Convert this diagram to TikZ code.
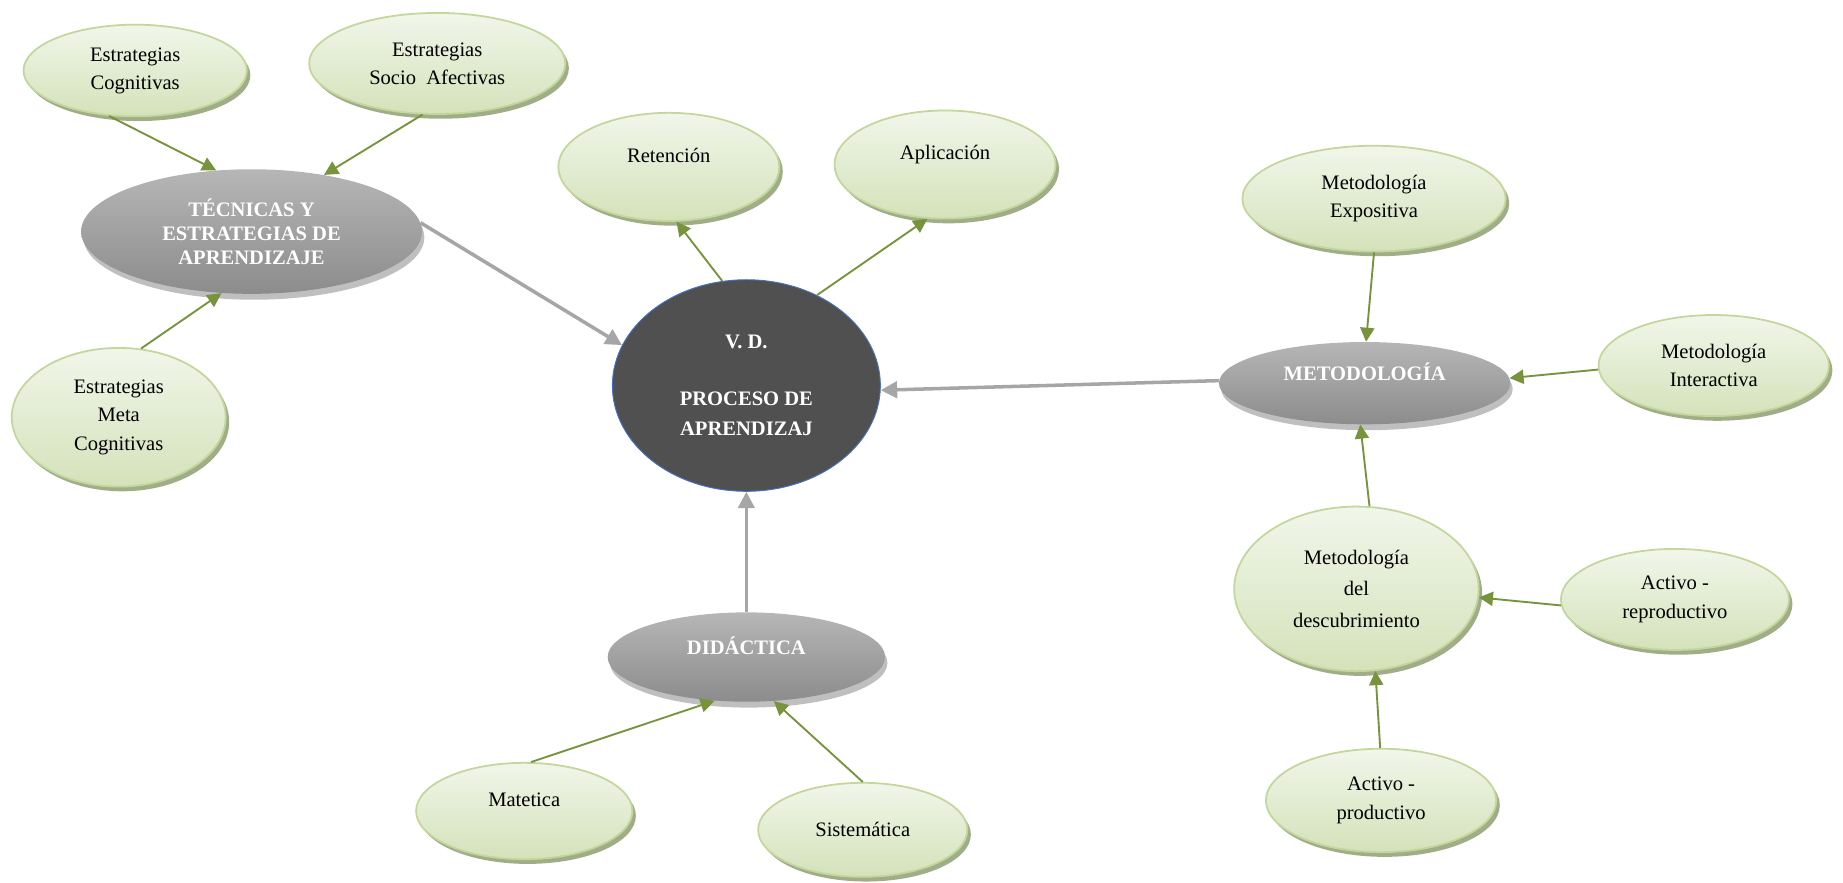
\documentclass[tikz,border=0pt]{standalone}
\usepackage{fontspec}
\setmainfont{Liberation Serif}
\usetikzlibrary{shapes.geometric}
\usetikzlibrary{shadows}
\usetikzlibrary{arrows.meta}
\definecolor{leafline}{RGB}{195,214,155}
\definecolor{leaftop}{RGB}{241,246,234}
\definecolor{leafbottom}{RGB}{212,226,186}
\definecolor{leafshadow}{RGB}{160,174,136}
\definecolor{linkgreen}{RGB}{119,147,60}
\definecolor{linkgray}{RGB}{166,166,166}
\definecolor{hubtop}{RGB}{182,182,182}
\definecolor{hubbottom}{RGB}{140,140,140}
\definecolor{coredark}{RGB}{80,80,80}
\definecolor{coreline}{RGB}{68,114,196}

\begin{document}
\begin{tikzpicture}[x=1pt, y=-1pt,
        leaf/.style={ellipse, draw=leafline, line width=1.5pt, top color=leaftop, bottom color=leafbottom,
            inner sep=0pt, align=center, font=\fontsize{17.5}{24}\selectfont,
            drop shadow={shadow xshift=3pt, shadow yshift=-4pt, fill=leafshadow, opacity=1}},
        hub/.style={ellipse, top color=hubtop, bottom color=hubbottom, inner sep=0pt, align=center,
            text=white, font=\fontsize{17.5}{20.5}\selectfont\bfseries,
            drop shadow={shadow xshift=2pt, shadow yshift=-5pt, fill=black, opacity=0.25}},
        raised/.style={text depth=20pt},
        twig/.style={draw=linkgreen, line width=1.6pt, -{Triangle[length=12pt,width=12pt]}},
        trunk/.style={draw=linkgray, line width=3pt, -{Triangle[length=14pt,width=14pt]}}]
            \useasboundingbox (0,0) rectangle (1568,751);

            \node [ellipse, fill=coredark, draw=coreline, line width=0.8pt, minimum width=228pt, minimum height=180pt,
                inner sep=0pt, align=center, text=white, font=\fontsize{17.5}{26}\selectfont\bfseries]
                (vd) at (635,328)
                {V. D.\\[22pt]PROCESO DE\\APRENDIZAJ};

            \node [hub, minimum width=290pt, minimum height=106pt] (tecnicas) at (214,197)
                {T\'ECNICAS Y\\ESTRATEGIAS DE\\APRENDIZAJE};
            \node [leaf, minimum width=190pt, minimum height=78pt] (cog) at (115,60) {Estrategias\\Cognitivas};
            \node [leaf, minimum width=218pt, minimum height=86pt] (socio) at (372,54) {Estrategias\\Socio~~Afectivas};
            \node [leaf, minimum width=182pt, minimum height=118pt] (meta) at (101,355) {Estrategias\\Meta\\Cognitivas};

            \node [leaf, raised, minimum width=188pt, minimum height=92pt] (ret) at (569,142) {Retenci\'on};
            \node [leaf, raised, minimum width=188pt, minimum height=92pt] (apl) at (804,140) {Aplicaci\'on};

            \node [hub, raised, minimum width=248pt, minimum height=70pt] (metod) at (1161,326) {METODOLOG\'IA};
            \node [leaf, minimum width=224pt, minimum height=90pt] (expo) at (1169,169) {Metodolog\'ia\\Expositiva};
            \node [leaf, minimum width=196pt, minimum height=86pt] (inter) at (1458,311) {Metodolog\'ia\\Interactiva};
            \node [leaf, minimum width=208pt, minimum height=140pt, font=\fontsize{17.5}{26.5}\selectfont]
                (desc) at (1154,501) {Metodolog\'ia\\del\\descubrimiento};
            \node [leaf, minimum width=194pt, minimum height=86pt] (reprod) at (1425,510) {Activo -\\reproductivo};
            \node [leaf, minimum width=196pt, minimum height=88pt] (prod) at (1175,681) {Activo -\\productivo};

            \node [hub, raised, minimum width=236pt, minimum height=76pt] (did) at (635,559) {DID\'ACTICA};
            \node [leaf, raised, minimum width=184pt, minimum height=82pt] (mat) at (446,690) {Matetica};
            \node [leaf, minimum width=178pt, minimum height=80pt] (sist) at (734,706) {Sistem\'atica};

            \draw [twig] (cog.240) -- (tecnicas.120);
            \draw [twig] (socio.254) -- (tecnicas.38);
            \draw [twig] (meta.72) -- (tecnicas.244);
            \draw [trunk] (tecnicas.3) -- (vd.162);
            \draw [twig] (vd.103) -- (ret.278);
            \draw [twig] (vd.52) -- (apl.252);
            \draw [trunk] (metod.179) -- (vd.358);
            \draw [twig] (expo.270) -- (metod.88);
            \draw [twig] (inter.182) -- (metod.2);
            \draw [twig] (desc.81) -- (metod.264);
            \draw [twig] (reprod.183) -- (desc.356);
            \draw [twig] (prod.91) -- (desc.283);
            \draw [trunk] (did) -- (vd);
            \draw [twig] (mat.82) -- (did.234);
            \draw [twig] (sist.90) -- (did.302);
        \end{tikzpicture}
\end{document}
